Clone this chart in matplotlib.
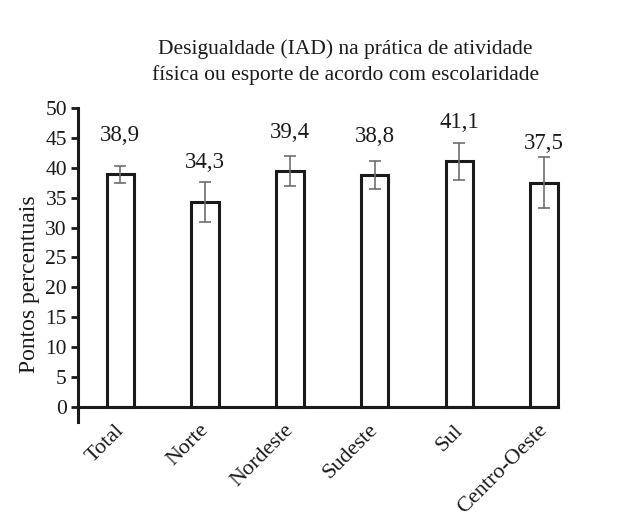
import matplotlib
matplotlib.use("Agg")
import matplotlib.pyplot as plt
import matplotlib.transforms as mtransforms
import numpy as np

plt.rcParams['font.family'] = ['Liberation Serif', 'DejaVu Serif']

categories = ["Total", "Norte", "Nordeste", "Sudeste", "Sul", "Centro-Oeste"]
values = [38.9, 34.3, 39.4, 38.8, 41.1, 37.5]
errors = [1.4, 3.4, 2.5, 2.4, 3.1, 4.3]
yticks = [0, 5, 10, 15, 20, 25, 30, 35, 40, 45, 50]

ink = "#1a1a1a"

fig = plt.figure(figsize=(6.22, 5.19), dpi=100)
ax = fig.add_axes([0.1254, 0.187, 0.897 - 0.1254, 0.792 - 0.187])

x = np.arange(len(categories))
bars = ax.bar(x, values, width=0.325, color="white", edgecolor=ink,
              linewidth=2.2, zorder=2)
for b in bars:
    b.set_clip_on(False)
ax.errorbar(x, values, yerr=errors, fmt="none", ecolor="#6e6e6e",
            elinewidth=1.2, capsize=4, capthick=1.2, zorder=3)

for xi, v in zip(x, values):
    ax.text(xi, v + 6.5, f"{v:.1f}".replace(".", ","), ha="center",
            va="center", fontsize=16.5, color=ink)

ax.axhline(0, color=ink, linewidth=2.2, zorder=4, clip_on=False)
ax.set_xlim(-0.5, len(categories) - 1 + 0.1625)
ax.set_ylim(-2.5, 50)
ax.set_yticks(yticks)
ax.set_yticklabels([str(t) for t in yticks], fontsize=15.5, color=ink)
ax.set_xticks(x)
ax.set_xticklabels(categories, rotation=45, ha="right", va="top",
                   rotation_mode="anchor", fontsize=16, color=ink)
ax.tick_params(axis="x", length=0, pad=2)
ax.tick_params(axis="y", length=5, width=2, direction="out", pad=3,
               color=ink)

shift = mtransforms.ScaledTranslation(-6 / 100, 4 / 100, fig.dpi_scale_trans)
for lbl in ax.get_xticklabels():
    lbl.set_transform(lbl.get_transform() + shift)

for s in ["top", "right", "bottom"]:
    ax.spines[s].set_visible(False)
ax.spines["left"].set_linewidth(2.2)
ax.spines["left"].set_color(ink)

ax.set_ylabel("Pontos percentuais", fontsize=17, color=ink)
ax.yaxis.set_label_coords(-0.079, 0.438)

fig.text(0.555, 0.88, "Desigualdade (IAD) na prática de atividade\n"
         "física ou esporte de acordo com escolaridade",
         ha="center", va="center", fontsize=15.5, color=ink,
         linespacing=1.38)

fig.savefig("out.png", dpi=100)
